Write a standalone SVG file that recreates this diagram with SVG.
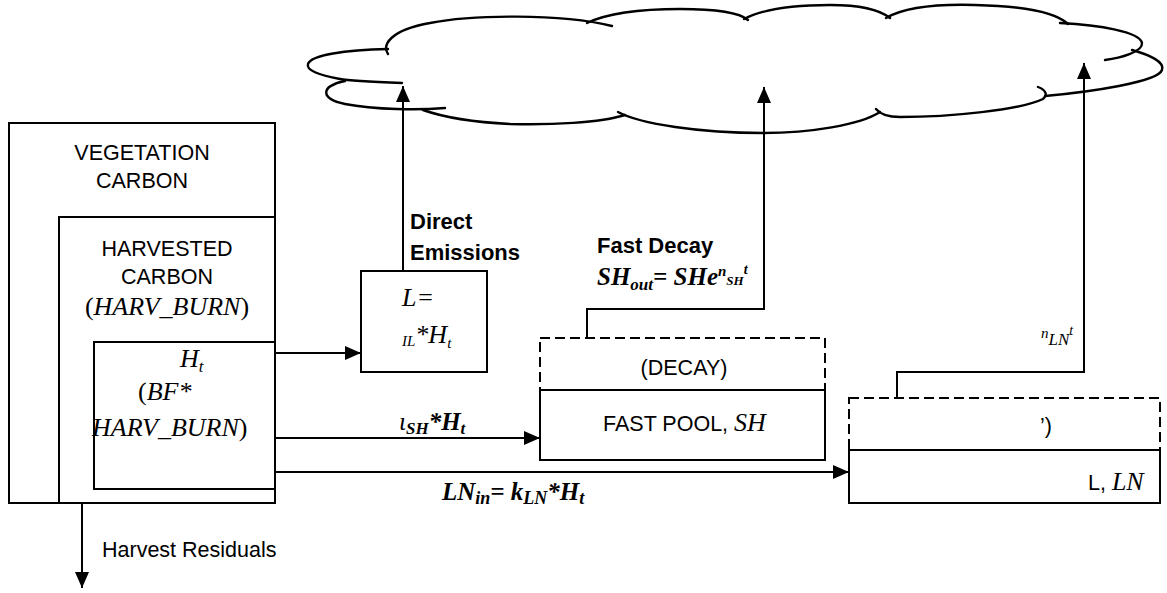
<svg xmlns="http://www.w3.org/2000/svg" width="1167" height="593" viewBox="0 0 1167 593">
<style>
.box{fill:none;stroke:#000;stroke-width:2}
.dash{fill:none;stroke:#000;stroke-width:2;stroke-dasharray:10 5}
.cl{fill:none;stroke:#000;stroke-width:2.4;stroke-linecap:round}
.ln{fill:none;stroke:#000;stroke-width:2}
.s{font-family:"Liberation Sans",Arial,sans-serif;font-size:21.5px;fill:#000}
.sb{font-family:"Liberation Sans",Arial,sans-serif;font-size:22px;font-weight:bold;fill:#000}
.i{font-family:"Liberation Serif","Times New Roman",serif;font-style:italic;font-size:26px;fill:#000}
.bi{font-family:"Liberation Serif","Times New Roman",serif;font-style:italic;font-weight:bold;font-size:25px;fill:#000}
.r{font-style:normal}
.m{text-anchor:middle}
</style>
<defs>
<marker id="ah" markerUnits="userSpaceOnUse" markerWidth="16" markerHeight="14" refX="16" refY="7" orient="auto">
<path d="M0,0 L16,7 L0,14 Z" fill="#000"/>
</marker>
</defs>
<rect width="1167" height="593" fill="#fff"/>

<g id="atmosphere">
<path class="cl" d="M402 83 C375 82 350 81 340 79 C318 75 306 70 308 64 C311 55 345 50 388 49"/>
<path class="cl" d="M388 54 C382 45 390 30 430 23 C470 15 560 13 612 26"/>
<path class="cl" d="M587 23 C610 12 650 9 680 9 C715 9 740 13 748 20"/>
<path class="cl" d="M744 19 C765 8 800 5 830 5 C860 5 880 10 890 18"/>
<path class="cl" d="M886 18 C905 7 940 4 975 5 C1020 6 1055 12 1068 24"/>
<path class="cl" d="M1060 23 C1100 25 1140 32 1142 43 C1143 52 1120 58 1105 60"/>
<path class="cl" d="M1132 50 C1150 55 1165 62 1162 70 C1158 82 1090 92 1045 96"/>
<path class="cl" d="M1038 87 C1046 90 1048 95 1043 99 C1020 110 950 117 900 117 C888 117 880 114 876 109"/>
<path class="cl" d="M880 112 C860 125 810 133 763 133 C700 133 640 124 618 112"/>
<path class="cl" d="M625 115 C600 123 550 125 510 124 C470 122 440 116 423 110"/>
<path class="cl" d="M445 108 C420 110 375 110 345 104 C320 99 320 86 345 81"/>
</g>

<g id="vegetation">
<rect class="box" x="9" y="123" width="266" height="380"/>
<text class="s m" x="142" y="160">VEGETATION</text>
<text class="s m" x="142" y="188">CARBON</text>
</g>

<g id="harvested">
<rect class="box" x="59" y="217" width="216" height="286"/>
<text class="s m" x="167" y="256">HARVESTED</text>
<text class="s m" x="167" y="284">CARBON</text>
<text class="i m" x="167" y="315"><tspan class="r">(</tspan>HARV_BURN<tspan class="r">)</tspan></text>
</g>

<g id="ht">
<rect class="box" x="94" y="342" width="181" height="147"/>
<text class="i" x="180" y="367" font-size="27">H<tspan font-size="17" dy="5">t</tspan></text>
<text class="i" x="138" y="400" font-size="27"><tspan class="r">(</tspan>BF*</text>
<text class="i" x="92" y="436" font-size="27">HARV_BURN<tspan class="r">)</tspan></text>
</g>

<g id="direct-loss">
<rect class="box" x="361" y="271" width="126" height="101"/>
<text class="i" x="402" y="306" font-size="25">L=</text>
<text class="i" x="402" y="343" font-size="25"><tspan font-size="15" dy="3">IL</tspan><tspan dy="-3">*H</tspan><tspan font-size="15" dy="5">t</tspan></text>
</g>

<g id="fast-pool">
<rect class="dash" x="540" y="338" width="285" height="52"/>
<rect class="box" x="540" y="390" width="285" height="70"/>
<text class="s m" x="684" y="375">(DECAY)</text>
<text class="s" x="603" y="431">FAST POOL, <tspan class="i" font-size="25">SH</tspan></text>
</g>

<g id="slow-pool">
<rect class="dash" x="849" y="398" width="311" height="52"/>
<rect class="box" x="849" y="450" width="311" height="53"/>
<text class="s" x="1040" y="433">’)</text>
<text class="s" x="1088" y="490">L, <tspan class="i" font-size="25">LN</tspan></text>
</g>

<g id="connectors">
<path class="ln" d="M275 353 H361" marker-end="url(#ah)"/>
<path class="ln" d="M275 438 H540" marker-end="url(#ah)"/>
<path class="ln" d="M275 472 H849" marker-end="url(#ah)"/>
<path class="ln" d="M403 271 V86" marker-end="url(#ah)"/>
<path class="ln" d="M587 338 V309 H764 V87" marker-end="url(#ah)"/>
<path class="ln" d="M897 398 V372 H1084 V63" marker-end="url(#ah)"/>
<path class="ln" d="M82 503 V588" marker-end="url(#ah)"/>
</g>

<g id="labels">
<text class="sb" x="410" y="229">Direct</text>
<text class="sb" x="410" y="260">Emissions</text>
<text class="sb" x="597" y="253">Fast Decay</text>
<text class="bi" x="597" y="285">SH<tspan font-size="17" dy="5">out</tspan><tspan dy="-5">= SHe</tspan><tspan font-size="15" dy="-9">n</tspan><tspan font-size="13" dy="9">SH</tspan><tspan font-size="14" dy="-11">t</tspan></text>
<text class="i" x="1041" y="345" font-size="25"><tspan font-size="15" dy="-7">n</tspan><tspan font-size="17" dy="7">LN</tspan><tspan font-size="14" dy="-10">t</tspan></text>
<text class="bi" x="399" y="430"><tspan font-weight="normal">ι</tspan><tspan font-size="17" dy="4">SH</tspan><tspan dy="-4">*H</tspan><tspan font-size="17" dy="4">t</tspan></text>
<text class="bi" x="442" y="500" font-size="27">LN<tspan font-size="18" dy="4">in</tspan><tspan dy="-4">= k</tspan><tspan font-size="18" dy="4">LN</tspan><tspan dy="-4">*H</tspan><tspan font-size="18" dy="4">t</tspan></text>
<text class="s" x="102" y="557">Harvest Residuals</text>
</g>
</svg>
